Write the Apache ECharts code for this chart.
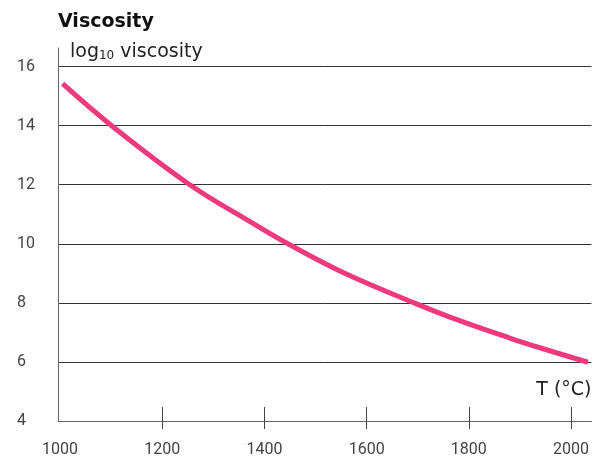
<!DOCTYPE html>
<html>
<head>
<meta charset="utf-8">
<script src="https://cdn.jsdelivr.net/npm/echarts@6/dist/echarts.min.js"></script>
<style>
html,body{margin:0;padding:0;background:#fff;}
#chart{width:599px;height:458px;}
</style>
</head>
<body>
<div id="chart"></div>
<script>
// Data
var temperatures = [1005, 1101, 1254, 1372, 1446, 1557, 1693, 1763, 1880, 1939, 2033];
var logViscosity = [15.42, 14.0, 12.0, 10.75, 10.0, 9.0, 8.0, 7.52, 6.81, 6.48, 5.99];
var xTickLabels = [1000, 1200, 1400, 1600, 1800, 2000];
var xTickMarks = [1200, 1400, 1600, 1800, 2000];
var yTickLabels = [4, 6, 8, 10, 12, 14, 16];

var chartTitle = 'Viscosity';
var xName = 'T (°C)';

var points = temperatures.map(function (t, i) { return [t, logViscosity[i]]; });

var chart = echarts.init(document.getElementById('chart'), null, {renderer: 'canvas'});
var labelFont = {color: '#444', fontSize: 16, fontFamily: 'Roboto'};
var option = {
  animation: false,
  backgroundColor: '#fff',
  title: [
    {
      text: chartTitle, left: 58, top: 13, padding: 0,
      textStyle: {fontSize: 19, fontWeight: 'bold', fontFamily: 'DejaVu Sans', color: '#111'}
    },
    {
      text: '{a|log}{b|10}{a| viscosity}', left: 70, top: 43, padding: 0,
      textStyle: {
        fontWeight: 'normal',
        rich: {
          a: {fontSize: 19, fontWeight: 'normal', fontFamily: 'DejaVu Sans', color: '#222'},
          b: {fontSize: 12, fontWeight: 'normal', fontFamily: 'DejaVu Sans', color: '#222', verticalAlign: 'bottom'}
        }
      }
    }
  ],
  grid: {left: 58, right: 7.5, top: 48, bottom: 35.3, containLabel: false},
  xAxis: [
    {
      type: 'value', min: 996, max: 2040, position: 'bottom',
      name: xName, nameLocation: 'end', nameGap: 0,
      nameTextStyle: {align: 'right', verticalAlign: 'bottom', padding: [0, 0, 21, 0],
        fontSize: 19, fontFamily: 'DejaVu Sans', color: '#222'},
      axisLine: {show: true, lineStyle: {color: '#666', width: 1}},
      axisTick: {show: true, inside: true, length: 14, customValues: xTickMarks, lineStyle: {color: '#444', width: 1}},
      axisLabel: Object.assign({show: true, margin: 21, customValues: xTickLabels,
        formatter: function (v) { return String(v); }}, labelFont),
      splitLine: {show: false}
    },
    {
      type: 'value', min: 996, max: 2040, position: 'bottom',
      axisLine: {show: false},
      axisTick: {show: true, inside: false, length: 8, customValues: xTickMarks, lineStyle: {color: '#444', width: 1}},
      axisLabel: {show: false},
      splitLine: {show: false}
    }
  ],
  yAxis: {
    type: 'value', min: 4, max: 16.63, interval: 2,
    axisLine: {show: true, lineStyle: {color: '#666', width: 1}},
    axisTick: {show: false},
    axisLabel: Object.assign({show: true, align: 'left', margin: 41, customValues: yTickLabels,
      formatter: function (v) { return String(v); }}, labelFont),
    splitLine: {show: true, showMinLine: false, showMaxLine: false, lineStyle: {color: '#333', width: 1}}
  },
  series: [{
    type: 'line',
    xAxisIndex: 0,
    data: points,
    smooth: 0.4,
    showSymbol: false,
    symbol: 'none',
    lineStyle: {color: '#ED3A7E', width: 5, cap: 'butt'}
  }]
};
chart.setOption(option);
</script>
</body>
</html>
